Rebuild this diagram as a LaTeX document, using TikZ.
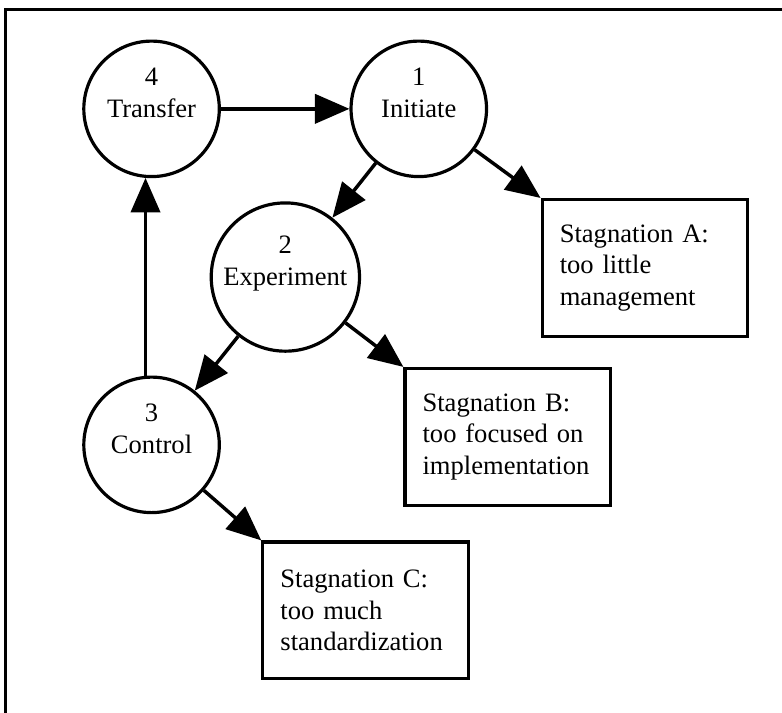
\documentclass[tikz,border=0pt]{standalone}
\usepackage{fontspec}
\setmainfont{Liberation Serif}
\usepackage{tikz}
\usetikzlibrary{arrows.meta}

\tikzset{
    stage/.style={draw, circle, line width=2.4pt, minimum size=102pt, inner sep=0pt,
        align=center, font=\fontsize{20}{24}\selectfont},
    stagnation/.style={draw, rectangle, line width=2.4pt, minimum width=154.5pt,
        minimum height=103pt, inner xsep=13pt, text width=128pt, align=left,
        font=\fontsize{20}{24}\selectfont},
    flow/.style={line width=2.6pt, -{Triangle[length=26pt, width=22pt]}},
    frame/.style={line width=2.6pt}
}

\begin{document}
\begin{tikzpicture}

    \useasboundingbox (0,0) rectangle (20.69,-18.86);
    \draw[frame] (0.14,-18.86) -- (0.14,-0.25) -- (20.69,-0.25);

    \node[stage] (trf) at (4.01,-2.88) {4\\Transfer\\\mbox{}};
    \node[stage] (ini) at (11.08,-2.88) {1\\Initiate\\\mbox{}};
    \node[stage] (exp) at (7.55,-7.33) {2\\Experiment\\\mbox{}};
    \node[stage] (ctl) at (4.01,-11.77) {3\\Control\\\mbox{}};

    \node[stagnation] (stgA) at (17.06,-7.09) {Stagnation A:\\too little\\management};
    \node[stagnation] (stgB) at (13.43,-11.56) {Stagnation B:\\too focused on\\implementation};
    \node[stagnation] (stgC) at (9.67,-16.15) {Stagnation C:\\too much\\standardization};

    \draw[flow] (trf) -- (ini);
    \draw[flow] (ini) -- (exp);
    \draw[flow] (exp) -- (ctl);
    \draw[flow] (ctl.95) -- (trf.265);

    \draw[flow] (ini) -- (stgA.north west);
    \draw[flow] (exp) -- (stgB.north west);
    \draw[flow] (ctl) -- (stgC.north west);
\end{tikzpicture}
\end{document}
